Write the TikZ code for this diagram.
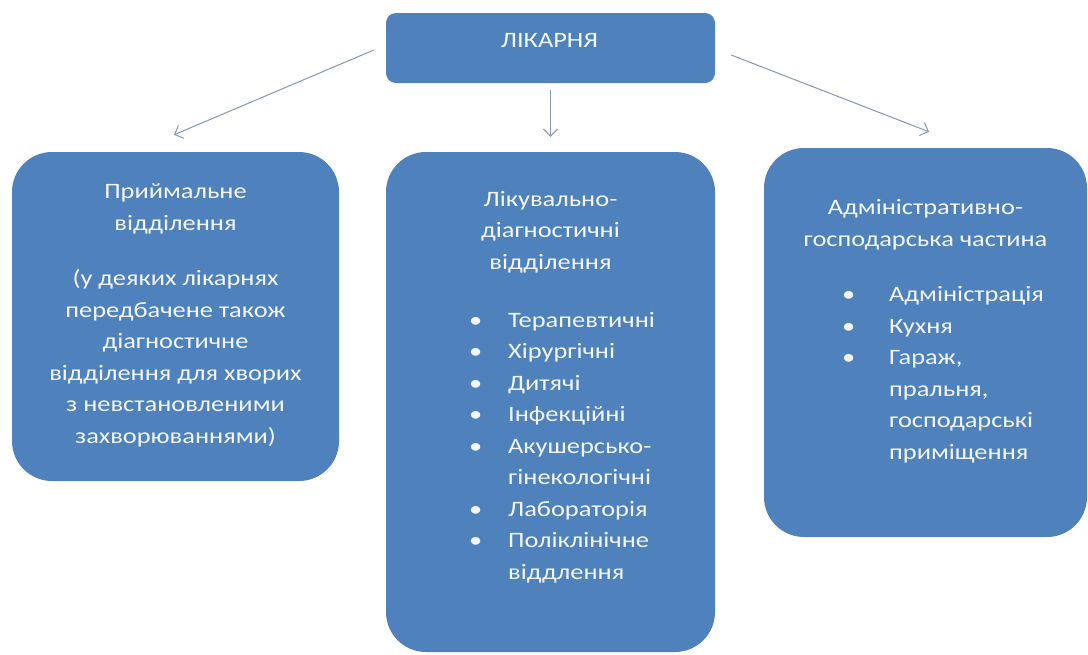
\documentclass[tikz,border=0pt]{standalone}
\usepackage{fontspec}
\setmainfont{Carlito}[FakeStretch=1.2]
\usetikzlibrary{arrows.meta}
\definecolor{boxblue}{HTML}{4F81BD}
\definecolor{boxtext}{HTML}{F2F6FB}
\definecolor{arrowgray}{HTML}{8696B3}
\newcommand\blt[1][39pt]{\makebox[#1][l]{\textbullet}}
\newcommand\nob[1][39pt]{\hspace*{#1}}
\tikzset{
  box/.style={fill=boxblue, draw=none, rounded corners=40pt, inner sep=0pt},
  txt/.style={text=boxtext, font=\fontsize{22}{31.5}\selectfont, inner sep=0pt, align=center},
  arr/.style={draw=arrowgray, line width=1pt, -{Straight Barb[length=7pt,width=14pt]}}
}
\begin{document}
\begin{tikzpicture}[x=1pt,y=-1pt]
                \useasboundingbox (0,0) rectangle (1088,654);
                \node[box, rounded corners=10pt, minimum width=329pt, minimum height=70pt] (1) at (550.5, 48) {};
                \node[box, minimum width=327pt, minimum height=329pt] (2) at (175.5, 316.5) {};
                \node[box, minimum width=329pt, minimum height=500pt] (3) at (550.5, 402) {};
                \node[box, minimum width=323pt, minimum height=389pt] (4) at (925.5, 342.5) {};
                % texts: anchor base = baseline of the last line
                \node[txt, anchor=base] (5) at (549.5, 47) {ЛІКАРНЯ};
                \node[txt, anchor=base] (6) at (175.5, 443) {Приймальне\\відділення\\[24pt](у деяких лікарнях\\передбачене також\\діагностичне\\відділення для хворих\\з невстановленими\\захворюваннями)};
                \node[txt, anchor=base] (7) at (550.5, 269) {Лікувально-\\діагностичні\\відділення};
                \node[txt, align=left, anchor=base west] (8) at (469, 579) {\blt Терапевтичні\\\blt Хірургічні\\\blt Дитячі\\\blt Інфекційні\\\blt Акушерсько-\\\nob гінекологічні\\\blt Лабораторія\\\blt Поліклінічне\\\nob віддлення};
                \node[txt, anchor=base] (9) at (925.5, 246) {Адміністративно-\\господарська частина};
                \node[txt, align=left, anchor=base west] (10) at (842, 459) {\blt[41pt] Адміністрація\\\blt[41pt] Кухня\\\blt[41pt] Гараж,\\\nob[41pt] пральня,\\\nob[41pt] господарські\\\nob[41pt] приміщення};
                \draw[arr] ([shift={(-12,2)}]1.west) to ([shift={(-1.5,-17)}]2.north);
                \draw[arr] ([shift={(0,7)}]1.south) to ([shift={(0,-15)}]3.north);
                \draw[arr] ([shift={(16,7)}]1.east) to ([shift={(3.5,-16)}]4.north);
\end{tikzpicture}
\end{document}
